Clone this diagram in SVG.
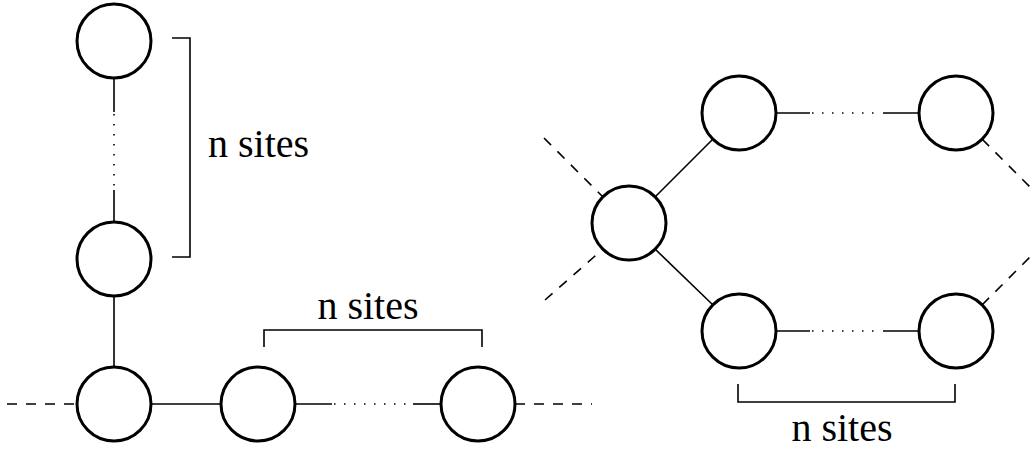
<svg xmlns="http://www.w3.org/2000/svg" width="1035" height="449" viewBox="0 0 1035 449">
<style>
.node{fill:#fff;stroke:#000;stroke-width:3}
.solid{stroke:#000;stroke-width:1.6;fill:none}
.dot{stroke:#000;stroke-width:1.6;fill:none;stroke-dasharray:1.5 8.5}
.dash{stroke:#000;stroke-width:1.6;fill:none;stroke-dasharray:10 9}
.br{stroke:#000;stroke-width:1.6;fill:none}
text{font-family:'Liberation Serif','Times New Roman','DejaVu Serif',serif;font-size:40px;fill:#000}
</style>
<rect width="1035" height="449" fill="#fff"/>
<g id="connectors">
  <line class="solid" x1="114" y1="78" x2="114" y2="112"/>
  <line class="dot" x1="114" y1="114" x2="114" y2="190"/>
  <line class="solid" x1="114" y1="190" x2="114" y2="222"/>
  <line class="solid" x1="114" y1="296" x2="114" y2="367"/>
  <line class="dash" x1="7" y1="404" x2="77" y2="404"/>
  <line class="solid" x1="151" y1="404" x2="222" y2="404"/>
  <line class="solid" x1="295" y1="404" x2="332" y2="404"/>
  <line class="dot" x1="334" y1="404" x2="408" y2="404"/>
  <line class="solid" x1="413" y1="404" x2="442" y2="404"/>
  <line class="dash" x1="515" y1="404" x2="592" y2="404"/>
  <line class="solid" x1="655" y1="197" x2="713" y2="139"/>
  <line class="solid" x1="655" y1="249" x2="713" y2="305"/>
  <line class="dash" x1="544" y1="138" x2="603" y2="197"/>
  <line class="dash" x1="545" y1="300" x2="603" y2="249"/>
  <line class="solid" x1="776" y1="113" x2="810" y2="113"/>
  <line class="dot" x1="812" y1="113" x2="880" y2="113"/>
  <line class="solid" x1="883" y1="113" x2="919" y2="113"/>
  <line class="solid" x1="776" y1="331" x2="810" y2="331"/>
  <line class="dot" x1="812" y1="331" x2="880" y2="331"/>
  <line class="solid" x1="883" y1="331" x2="919" y2="331"/>
  <line class="dash" x1="982" y1="139" x2="1066" y2="223"/>
  <line class="dash" x1="982" y1="305" x2="1066" y2="221"/>
</g>
<g id="v1"><circle class="node" cx="114" cy="41" r="37"/></g>
<g id="v2"><circle class="node" cx="114" cy="259" r="37"/></g>
<g id="h1"><circle class="node" cx="114" cy="404" r="37"/></g>
<g id="h2"><circle class="node" cx="258" cy="404" r="37"/></g>
<g id="h3"><circle class="node" cx="478" cy="404" r="37"/></g>
<g id="r1"><circle class="node" cx="629" cy="223" r="37"/></g>
<g id="r2"><circle class="node" cx="739" cy="113" r="37"/></g>
<g id="r3"><circle class="node" cx="956" cy="113" r="37"/></g>
<g id="r4"><circle class="node" cx="739" cy="331" r="37"/></g>
<g id="r5"><circle class="node" cx="956" cy="331" r="37"/></g>
<g id="bracket-left">
  <polyline class="br" points="172,38 190,38 190,257 172,257"/>
  <text x="208" y="157" font-family="Liberation Serif, serif">n sites</text>
</g>
<g id="bracket-bottom">
  <polyline class="br" points="264,347 264,330 482,330 482,347"/>
  <text x="368" y="319" text-anchor="middle" font-family="Liberation Serif, serif">n sites</text>
</g>
<g id="bracket-right">
  <polyline class="br" points="738,384 738,402 955,402 955,384"/>
  <text x="842" y="441" text-anchor="middle" font-family="Liberation Serif, serif">n sites</text>
</g>
</svg>
